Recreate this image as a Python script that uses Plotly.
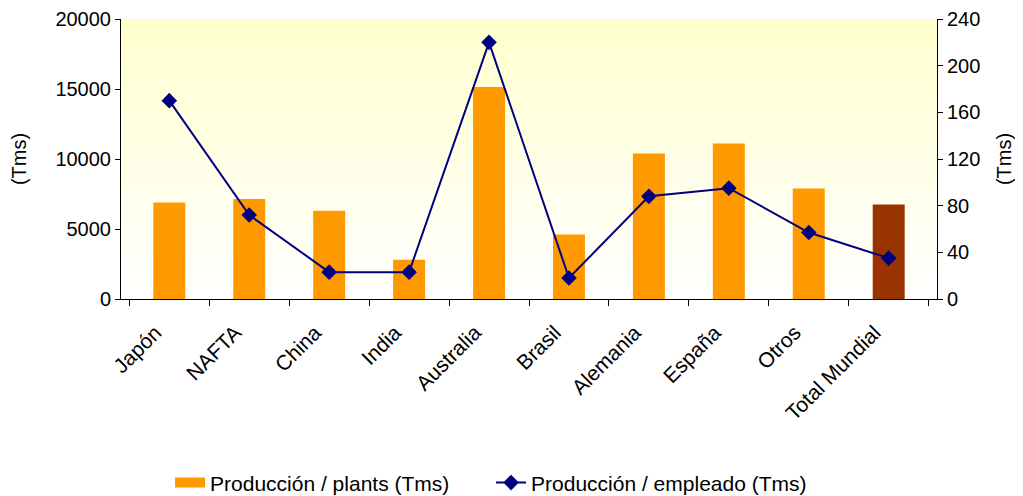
import plotly.graph_objects as go

categories = ["Japón", "NAFTA", "China", "India", "Australia", "Brasil",
              "Alemania", "España", "Otros", "Total Mundial"]
prod_plants = [6900, 7150, 6300, 2800, 15150, 4600, 10400, 11100, 7900, 6750]
prod_empleado = [170, 72, 23, 23, 220, 18, 88, 95, 57, 35]
bar_colors = ["#FF9900"] * 9 + ["#993300"]

FONT = "Liberation Sans, Arial, sans-serif"
FS = 20

fig = go.Figure()
fig.add_trace(go.Bar(
    x=categories, y=prod_plants, name="Producción / plants (Tms)",
    marker=dict(color=bar_colors, line=dict(width=0)), yaxis="y",
    showlegend=False,
))
# legend proxy for the bar series (wide orange swatch)
fig.add_trace(go.Scatter(
    x=[None], y=[None], name="Producción / plants (Tms)", mode="lines",
    line=dict(color="#FF9900", width=12), yaxis="y", hoverinfo="skip",
))
fig.add_trace(go.Scatter(
    x=categories, y=prod_empleado, name="Producción / empleado (Tms)",
    mode="lines+markers", yaxis="y2",
    line=dict(color="#000080", width=2),
    marker=dict(symbol="diamond", size=12, color="#000080"),
))

# vertical gradient background for plot area (pale yellow top -> white bottom)
shapes = []
n = 60
top = (255, 255, 204)
bot = (255, 255, 255)
for i in range(n):
    t = i / (n - 1)
    c = tuple(round(top[k] + (bot[k] - top[k]) * t) for k in range(3))
    shapes.append(dict(
        type="rect", xref="x domain", yref="y domain",
        x0=0, x1=1, y0=1 - (i + 1) / n, y1=1 - i / n,
        fillcolor=f"rgb{c}", line=dict(width=0), layer="below",
    ))

# page body has an 8px default margin, so the figure is offset by 8px
fig.update_layout(
    width=1015, height=488,
    margin=dict(l=113, r=86, t=11, b=197, autoexpand=False),
    paper_bgcolor="white", plot_bgcolor="white",
    font=dict(family=FONT, size=FS, color="black"),
    bargap=0.6,
    shapes=shapes,
    showlegend=True,
    legend=dict(orientation="h", x=0.4535, xanchor="center", y=-0.657,
                yanchor="middle", font=dict(size=21), traceorder="normal",
                entrywidth=276, entrywidthmode="pixels"),
    xaxis=dict(
        showline=True, linecolor="black", linewidth=1,
        ticks="outside", ticklen=6, tickcolor="black", tickson="boundaries",
        tickangle=-45, showgrid=False, zeroline=False, automargin=False,
        tickfont=dict(size=21), ticklabelshift=-14, ticklabelstandoff=12,
    ),
    yaxis=dict(
        range=[0, 20000], dtick=5000, tickformat="d",
        showgrid=False, zeroline=False, automargin=False,
        showline=True, linecolor="black", linewidth=1,
        ticks="outside", ticklen=5, tickcolor="black",
        title=dict(text="(Tms)", standoff=23, font=dict(size=FS)),
        tickfont=dict(size=FS),
    ),
    yaxis2=dict(
        range=[0, 240], dtick=40, overlaying="y", side="right",
        showgrid=False, zeroline=False, automargin=False,
        showline=True, linecolor="black", linewidth=1,
        ticks="outside", ticklen=5, tickcolor="black",
        title=dict(text="(Tms)", standoff=17, font=dict(size=FS)),
        tickfont=dict(size=FS),
    ),
)

fig.write_html("out.html")
